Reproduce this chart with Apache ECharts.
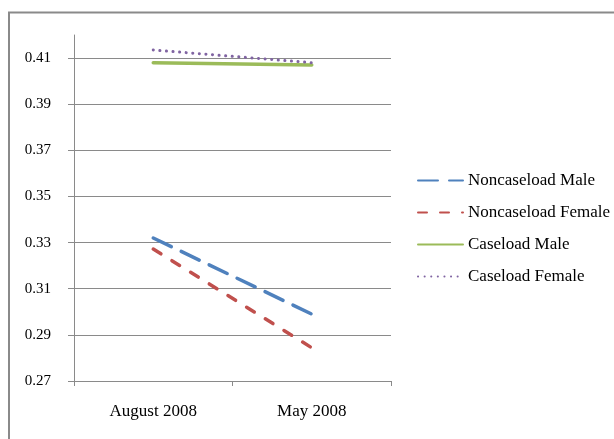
<!DOCTYPE html>
<html>
<head>
<meta charset="utf-8">
<script src="https://cdn.jsdelivr.net/npm/echarts@6/dist/echarts.min.js"></script>
<style>html,body{margin:0;padding:0;background:#fff}#c{width:614px;height:439px}</style>
</head>
<body>
<div id="c"></div>
<script>
const categories = ['August 2008', 'May 2008'];
const noncaseloadMale = [0.332, 0.299];
const noncaseloadFemale = [0.3272, 0.2844];
const caseloadMale = [0.408, 0.407];
const caseloadFemale = [0.4135, 0.408];
const yTicks = [0.27, 0.29, 0.31, 0.33, 0.35, 0.37, 0.39, 0.41];
const seriesNames = ['Noncaseload Male', 'Noncaseload Female', 'Caseload Male', 'Caseload Female'];

const font = '"Liberation Serif", "Times New Roman", serif';
const chart = echarts.init(document.getElementById('c'));
chart.setOption({
  animation: false,
  graphic: [{
    type: 'rect',
    shape: { x: 9, y: 12.5, width: 800, height: 600 },
    style: { fill: 'none', stroke: '#8a8a8a', lineWidth: 2 },
    silent: true
  }],
  grid: { left: 74, top: 35, width: 317, height: 346 },
  xAxis: {
    type: 'category',
    data: categories,
    boundaryGap: true,
    axisLine: { lineStyle: { color: '#8a8a8a', width: 1 } },
    axisTick: { show: true, length: 5, lineStyle: { color: '#8a8a8a' } },
    axisLabel: { color: '#000', fontFamily: font, fontSize: 17, margin: 22 }
  },
  yAxis: {
    type: 'value',
    min: 0.27,
    max: 0.42,
    axisLine: { show: true, lineStyle: { color: '#8a8a8a', width: 1 } },
    axisTick: { show: true, length: 6, customValues: yTicks, lineStyle: { color: '#8a8a8a' } },
    axisLabel: { customValues: yTicks, color: '#000', fontFamily: font, fontSize: 15, margin: 23,
      formatter: v => v.toFixed(2) },
    splitLine: { show: true, lineStyle: { color: '#8a8a8a', width: 1 } }
  },
  legend: {
    orient: 'vertical',
    left: 417,
    top: 172,
    padding: 0,
    itemWidth: 45,
    itemHeight: 14,
    itemGap: 15,
    itemStyle: { opacity: 0 },
    textStyle: { color: '#000', fontFamily: font, fontSize: 17 },
    data: seriesNames
  },
  series: [
    { name: seriesNames[0], type: 'line', data: noncaseloadMale, symbol: 'none',
      lineStyle: { color: '#4F81BD', width: 3.5, type: [20, 11], cap: 'round' }, itemStyle: { color: '#4F81BD' } },
    { name: seriesNames[1], type: 'line', data: noncaseloadFemale, symbol: 'none',
      lineStyle: { color: '#C0504D', width: 3.5, type: [9, 13], cap: 'round' }, itemStyle: { color: '#C0504D' } },
    { name: seriesNames[2], type: 'line', data: caseloadMale, symbol: 'none',
      lineStyle: { color: '#9BBB59', width: 3.5, cap: 'round' }, itemStyle: { color: '#9BBB59' } },
    { name: seriesNames[3], type: 'line', data: caseloadFemale, symbol: 'none',
      lineStyle: { color: '#8064A2', width: 3, type: [0.1, 6.5], cap: 'round' }, itemStyle: { color: '#8064A2' } }
  ]
});
</script>
</body>
</html>
